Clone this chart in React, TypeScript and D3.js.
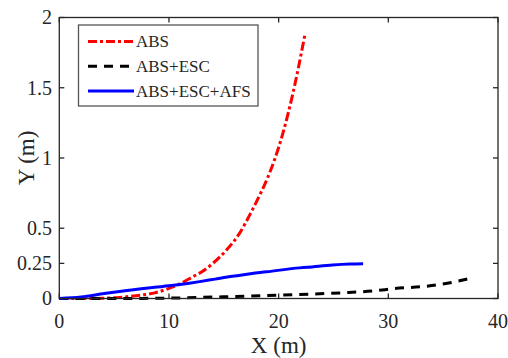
import { useEffect, useRef } from "react"
import * as d3 from "d3"

const absX = [0, 2, 4, 5.5, 7, 8.7, 10, 10.8, 12.3, 13, 14, 15.3, 16.4, 17.4, 18.3, 19, 20.4, 21.3, 22.4]
const absY = [0, 0, 0.002, 0.008, 0.02, 0.04, 0.072, 0.097, 0.16, 0.19, 0.25, 0.35, 0.46, 0.6, 0.74, 0.86, 1.18, 1.46, 1.88]

const escX = [0, 5, 10, 15, 20.4, 25.6, 28.8, 30.5, 33.8, 37, 37.5]
const escY = [0, 0, 0.003, 0.012, 0.025, 0.04, 0.055, 0.07, 0.09, 0.135, 0.145]

const afsX = [0, 2, 4.1, 6, 8.7, 10, 11.7, 12.8, 14.2, 15.8, 16.5, 18.3, 18.9, 21.9, 22.6, 24.9, 26.5, 27.7]
const afsY = [0, 0.01, 0.035, 0.055, 0.08, 0.09, 0.107, 0.12, 0.138, 0.158, 0.165, 0.185, 0.19, 0.218, 0.222, 0.238, 0.245, 0.247]

const xTicks = [0, 10, 20, 30, 40]
const yTicks = [0, 0.25, 0.5, 1, 1.5, 2]

const seriesNames = ["ABS", "ABS+ESC", "ABS+ESC+AFS"]

export default function App() {
  const svgRef = useRef<SVGSVGElement>(null)

  useEffect(() => {
    if (!svgRef.current) return
    const svg = d3.select(svgRef.current)
    svg.selectAll("*").remove()

    const left = 59.3
    const right = 498
    const top = 17.5
    const bottom = 298.5
    const font = '"Liberation Serif", "Times New Roman", "DejaVu Serif", serif'
    const axisColor = "#262626"

    const x = d3.scaleLinear().domain([0, 40]).range([left, right])
    const y = d3.scaleLinear().domain([0, 2]).range([bottom, top])

    const series = [
      { name: seriesNames[0], xs: absX, ys: absY, color: "#ff0000", dash: "9,3,3,3" },
      { name: seriesNames[1], xs: escX, ys: escY, color: "#000000", dash: "9,7" },
      { name: seriesNames[2], xs: afsX, ys: afsY, color: "#0000ff", dash: null },
    ]

    const line = d3
      .line<[number, number]>()
      .x((d) => x(d[0]))
      .y((d) => y(d[1]))
      .curve(d3.curveMonotoneX)

    const plot = svg.append("g")
    series.forEach((s) => {
      const pts = s.xs.map((v, i) => [v, s.ys[i]] as [number, number])
      plot
        .append("path")
        .attr("d", line(pts))
        .attr("fill", "none")
        .attr("stroke", s.color)
        .attr("stroke-width", 3)
        .attr("stroke-dasharray", s.dash)
    })

    // Box + ticks
    const g = svg.append("g").attr("stroke", axisColor).attr("stroke-width", 1.3)
    g.append("rect")
      .attr("x", left)
      .attr("y", top)
      .attr("width", right - left)
      .attr("height", bottom - top)
      .attr("fill", "none")

    xTicks.forEach((t) => {
      g.append("line").attr("x1", x(t)).attr("x2", x(t)).attr("y1", bottom).attr("y2", bottom - 5)
      g.append("line").attr("x1", x(t)).attr("x2", x(t)).attr("y1", top).attr("y2", top + 5)
    })
    yTicks.forEach((t) => {
      g.append("line").attr("x1", left).attr("x2", left + 5).attr("y1", y(t)).attr("y2", y(t))
      g.append("line").attr("x1", right).attr("x2", right - 5).attr("y1", y(t)).attr("y2", y(t))
    })

    const labels = svg.append("g").style("font-family", font).attr("fill", axisColor)
    xTicks.forEach((t) => {
      labels
        .append("text")
        .attr("x", x(t))
        .attr("y", 328)
        .attr("text-anchor", "middle")
        .style("font-family", font)
        .style("font-size", "20px")
        .text(t)
    })
    yTicks.forEach((t) => {
      labels
        .append("text")
        .attr("x", 52)
        .attr("y", y(t))
        .attr("dy", "0.34em")
        .attr("text-anchor", "end")
        .style("font-family", font)
        .style("font-size", "20px")
        .text(t)
    })

    labels
      .append("text")
      .attr("x", (left + right) / 2)
      .attr("y", 353)
      .attr("text-anchor", "middle")
      .style("font-family", font)
      .style("font-size", "23px")
      .text("X (m)")

    labels
      .append("text")
      .attr("transform", `translate(34, ${(top + bottom) / 2}) rotate(-90)`)
      .attr("text-anchor", "middle")
      .style("font-family", font)
      .style("font-size", "23px")
      .text("Y (m)")

    // Legend
    const legend = svg.append("g")
    legend
      .append("rect")
      .attr("x", 78.5)
      .attr("y", 25)
      .attr("width", 179.5)
      .attr("height", 81)
      .attr("fill", "#ffffff")
      .attr("stroke", "#555555")
      .attr("stroke-width", 1.3)

    series.forEach((s, i) => {
      const ly = 41.5 + i * 24.8
      legend
        .append("line")
        .attr("x1", 88)
        .attr("x2", 134)
        .attr("y1", ly)
        .attr("y2", ly)
        .attr("stroke", s.color)
        .attr("stroke-width", 3)
        .attr("stroke-dasharray", s.dash)
      legend
        .append("text")
        .attr("x", 136)
        .attr("y", ly)
        .attr("dy", "0.35em")
        .style("font-family", font)
        .style("font-size", "17px")
        .attr("fill", axisColor)
        .text(s.name)
    })
  }, [])

  return (
    <svg
      ref={svgRef}
      width={508}
      height={358}
      style={{ position: "absolute", left: 0, top: 0, background: "#ffffff" }}
    />
  )
}
